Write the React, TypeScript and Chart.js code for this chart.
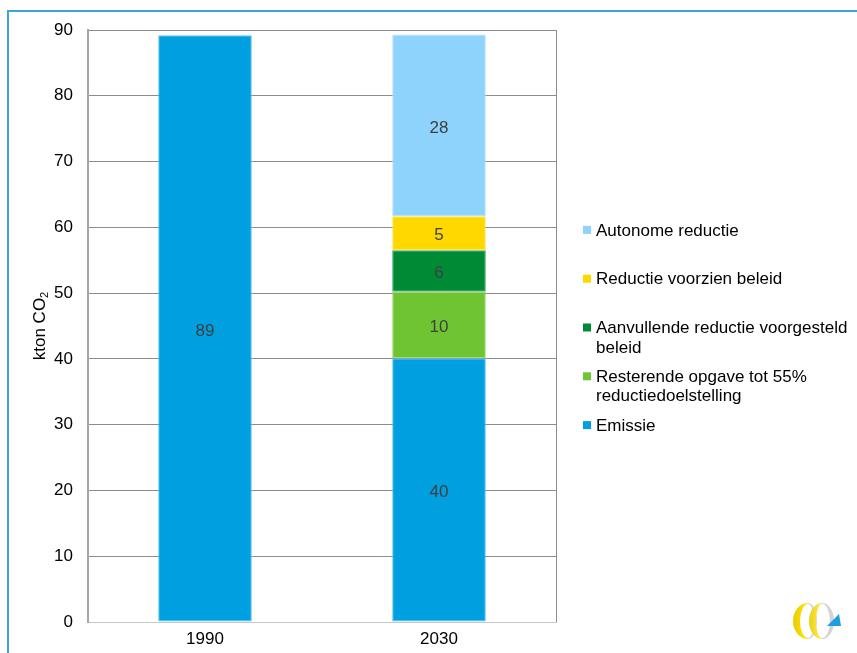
import React, { useEffect, useRef } from 'react';
import { Chart, registerables } from 'chart.js';
Chart.register(...registerables);

const categories = ['1990', '2030'];
const emissie = [89.2, 40.1];
const resterende = [null, 10.1];
const aanvullende = [null, 6.3];
const voorzien = [null, 5.2];
const autonome = [null, 27.6];

const seriesNames = [
  'Emissie',
  'Resterende opgave tot 55% reductiedoelstelling',
  'Aanvullende reductie voorgesteld beleid',
  'Reductie voorzien beleid',
  'Autonome reductie',
];
const seriesColors = ['#009FE0', '#6EC531', '#008A36', '#FFD800', '#8DD3FC'];
const seriesBorders = ['#5CC3EE', '#9BD873', '#3FA866', '#FFE45C', '#B3E2FD'];

const yMin = 0;
const yMax = 90;
const yStep = 10;
const yTitleMain = 'kton CO';
const yTitleSub = '2';

const FONT = "'Liberation Sans', Arial, sans-serif";
const FS = 17;

const labelsPlugin = {
  id: 'segLabels',
  afterDatasetsDraw(chart: any) {
    const ctx = chart.ctx;
    ctx.save();
    ctx.font = `${FS}px ${FONT}`;
    ctx.fillStyle = '#404040';
    ctx.textAlign = 'center';
    ctx.textBaseline = 'middle';
    chart.data.datasets.forEach((ds: any, di: number) => {
      const meta = chart.getDatasetMeta(di);
      meta.data.forEach((el: any, i: number) => {
        const v = ds.data[i];
        if (v == null || v === 0) return;
        const props = el.getProps(['x', 'y', 'base'], true);
        ctx.fillText(String(Math.round(v)), props.x, (props.y + props.base) / 2 + 2.5);
      });
    });
    ctx.restore();
  },
};

function crescent(ctx: any, cx: number, cy: number, rxo: number, rxi: number, ry: number, a0: number, a1: number) {
  ctx.beginPath();
  ctx.ellipse(cx, cy, rxo, ry, 0, a0, a1, false);
  ctx.ellipse(cx, cy, rxi, ry - 1, 0, a1, a0, true);
  ctx.closePath();
  ctx.fill();
}

const framePlugin = {
  id: 'frameExtras',
  afterDraw(chart: any) {
    const ctx = chart.ctx;
    const a = chart.chartArea;
    ctx.save();
    ctx.strokeStyle = '#8C8C8C';
    ctx.lineWidth = 1;
    ctx.beginPath();
    ctx.moveTo(Math.round(a.right) + 0.5, a.top);
    ctx.lineTo(Math.round(a.right) + 0.5, a.bottom);
    ctx.stroke();

    // y-axis title with subscript
    ctx.fillStyle = '#000';
    ctx.translate(40, (a.top + a.bottom) / 2);
    ctx.rotate(-Math.PI / 2);
    ctx.font = `${FS}px ${FONT}`;
    const wMain = ctx.measureText(yTitleMain).width;
    ctx.font = `11px ${FONT}`;
    const wSub = ctx.measureText(yTitleSub).width;
    const total = wMain + wSub;
    ctx.textBaseline = 'middle';
    ctx.textAlign = 'left';
    ctx.font = `${FS}px ${FONT}`;
    ctx.fillText(yTitleMain, -total / 2, 0);
    ctx.font = `11px ${FONT}`;
    ctx.fillText(yTitleSub, -total / 2 + wMain, 5);
    ctx.restore();

    // legend
    ctx.save();
    const ds = chart.data.datasets;
    const n = ds.length;
    const spacing = 48.8;
    const cy = (a.top + a.bottom) / 2 + 2.5;
    const mx = a.right + 27;
    const tx = a.right + 40;
    const maxW = chart.width - tx - 2;
    ctx.font = `${FS}px ${FONT}`;
    ctx.textAlign = 'left';
    ctx.textBaseline = 'middle';
    for (let k = 0; k < n; k++) {
      const d = ds[n - 1 - k];
      const y0 = cy + (k - (n - 1) / 2) * spacing;
      ctx.fillStyle = d.backgroundColor;
      ctx.fillRect(mx, y0 - 5, 8, 8);
      const words = String(d.label).split(' ');
      const lines: string[] = [];
      let cur = '';
      for (const w of words) {
        const t = cur ? cur + ' ' + w : w;
        if (ctx.measureText(t).width > maxW && cur) {
          lines.push(cur);
          cur = w;
        } else cur = t;
      }
      if (cur) lines.push(cur);
      ctx.fillStyle = '#000';
      lines.forEach((ln, li) => ctx.fillText(ln, tx, y0 + li * 19.5));
    }
    ctx.restore();

    // logo
    ctx.save();
    const lx = 808, ly = 621;
    const yel = ctx.createLinearGradient(lx - 15, 0, lx + 12, 0);
    yel.addColorStop(0, '#E8CC00');
    yel.addColorStop(0.5, '#FFE600');
    yel.addColorStop(1, '#FFF59A');
    ctx.fillStyle = '#D4D4D4';
    crescent(ctx, lx, ly, 9, 6, 18, -Math.PI / 2, Math.PI / 2);
    crescent(ctx, lx + 14, ly, 12, 8, 18, -Math.PI / 2, Math.PI / 2);
    ctx.fillStyle = yel;
    crescent(ctx, lx, ly, 15, 8, 18, Math.PI / 2, Math.PI * 1.5);
    const yel2 = ctx.createLinearGradient(lx, 0, lx + 16, 0);
    yel2.addColorStop(0, '#EBD000');
    yel2.addColorStop(1, '#FFF07A');
    ctx.fillStyle = yel2;
    crescent(ctx, lx + 14, ly, 13, 6, 18, Math.PI / 2, Math.PI * 1.5);
    ctx.fillStyle = '#1AA0E2';
    ctx.beginPath();
    ctx.moveTo(lx + 19, ly + 5);
    ctx.lineTo(lx + 33, ly + 5);
    ctx.lineTo(lx + 31, ly - 7);
    ctx.closePath();
    ctx.fill();
    ctx.restore();
  },
};

export default function App() {
  const ref = useRef<HTMLCanvasElement | null>(null);
  useEffect(() => {
    if (!ref.current) return;
    const seriesData = [emissie, resterende, aanvullende, voorzien, autonome];
    const chart = new Chart(ref.current, {
      type: 'bar',
      data: {
        labels: categories,
        datasets: seriesData.map((d, i) => ({
          label: seriesNames[i],
          data: d as any,
          backgroundColor: seriesColors[i],
          borderColor: seriesBorders[i],
          borderWidth: 1,
          borderSkipped: false,
          categoryPercentage: 1,
          barPercentage: 0.4,
        })),
      },
      options: {
        responsive: false,
        animation: false,
        devicePixelRatio: 1,
        layout: { padding: { left: 0, top: 30, right: 301, bottom: 0 } },
        plugins: {
          legend: { display: false },
          tooltip: { enabled: false },
        },
        scales: {
          x: {
            stacked: true,
            grid: { display: false, drawTicks: false },
            border: { display: true, color: '#C8C8C8', width: 1 },
            ticks: { color: '#000', font: { family: FONT, size: FS }, padding: 7 },
            afterFit: (s: any) => { s.height = 31; },
          },
          y: {
            stacked: true,
            min: yMin,
            max: yMax,
            ticks: { stepSize: yStep, color: '#000', font: { family: FONT, size: FS }, padding: 15 },
            grid: { color: '#8C8C8C', drawTicks: false, lineWidth: 1 },
            border: { display: true, color: '#A6A6A6', width: 2 },
            afterFit: (s: any) => { s.width = 88; },
          },
        },
      },
      plugins: [labelsPlugin, framePlugin],
    });
    return () => chart.destroy();
  }, []);
  return (
    <div style={{ position: 'fixed', left: 0, top: 0, width: 857, height: 653, background: '#fff' }}>
      <canvas ref={ref} width={857} height={653} style={{ display: 'block', width: 857, height: 653 }} />
      <div
        style={{
          position: 'absolute',
          left: 7,
          top: 10,
          right: 0,
          bottom: 0,
          borderLeft: '2px solid #3FA4D8',
          borderTop: '2px solid #3FA4D8',
          pointerEvents: 'none',
        }}
      />
    </div>
  );
}
